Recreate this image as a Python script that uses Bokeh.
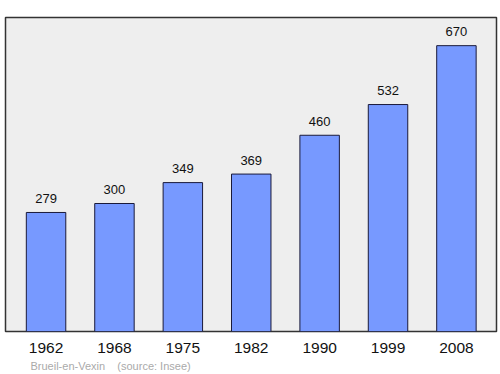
from bokeh.plotting import figure
from bokeh.models import Range1d, FixedTicker, ColumnDataSource, Title
from bokeh.core.properties import value
from bokeh.embed import file_html
from bokeh.resources import INLINE

years = ["1962", "1968", "1975", "1982", "1990", "1999", "2008"]
population = [279, 300, 349, 369, 460, 532, 670]
source_text = "Brueil-en-Vexin\u00a0\u00a0\u00a0\u00a0(source: Insee)"

idx = list(range(len(years)))
src = ColumnDataSource(dict(x=idx, top=population, label=[str(v) for v in population]))

p = figure(width=500, height=374, output_backend="svg", toolbar_location=None,
           x_range=Range1d(-0.593, 6.586), y_range=Range1d(0, 736),
           min_border_left=5, min_border_right=4, min_border_top=17, min_border_bottom=0)
p.background_fill_color = "#eeeeee"
p.border_fill_color = "white"
p.outline_line_color = "#333333"
p.outline_line_width = 1.5
p.grid.visible = False
p.yaxis.visible = False

p.vbar(x="x", top="top", width=0.577, bottom=0, source=src,
       fill_color="#7799ff", line_color="#1a1a3a", line_width=1)
p.text(x="x", y="top", text="label", source=src, text_align="center",
       text_baseline="middle", y_offset=-14, text_font=value("Liberation Sans"),
       text_font_size="13px", text_color="#111111")

xa = p.xaxis[0]
xa.ticker = FixedTicker(ticks=idx)
xa.major_label_overrides = {i: y for i, y in zip(idx, years)}
xa.axis_line_color = None
xa.major_tick_line_color = None
xa.minor_tick_line_color = None
xa.major_tick_out = 0
xa.major_tick_in = 0
xa.major_label_standoff = 11
xa.major_label_text_font = "Liberation Sans"
xa.major_label_text_font_size = "15.5px"
xa.major_label_text_color = "#111111"

t = Title(text=source_text, align="left", text_font="Liberation Sans",
          text_font_size="11px", text_color="#aaaaaa", text_font_style="normal",
          offset=21, standoff=-3, padding=4)
p.add_layout(t, "below")

open("out.html", "w").write(file_html(p, INLINE))
